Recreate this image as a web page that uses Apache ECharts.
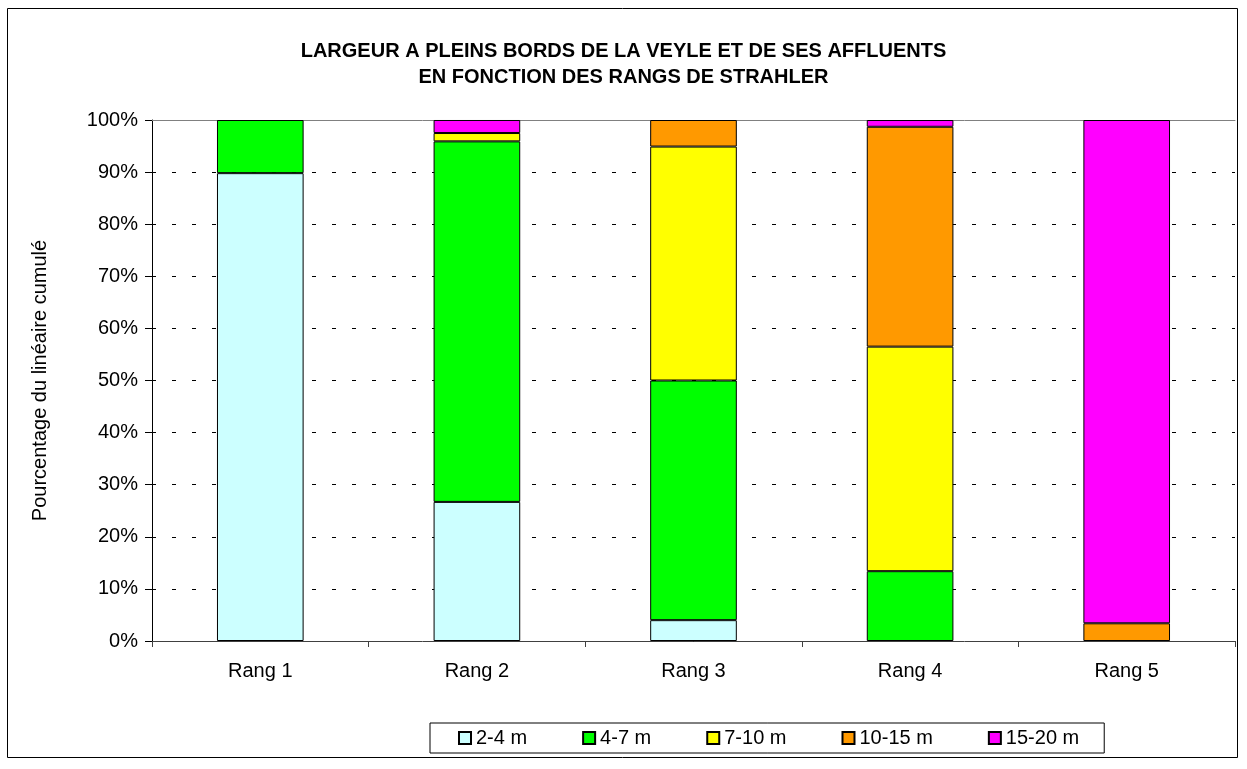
<!DOCTYPE html>
<html>
<head>
<meta charset="utf-8">
<title>Largeur a pleins bords de la Veyle</title>
<script src="https://cdn.jsdelivr.net/npm/echarts@6/dist/echarts.min.js"></script>
<style>
	html, body { margin: 0; padding: 0; background: #fff; }
	#main { width: 1247px; height: 769px; }
</style>
</head>
<body>
<div id="main"></div>
<script>
// rangs de Strahler
var categories = ['Rang 1', 'Rang 2', 'Rang 3', 'Rang 4', 'Rang 5'];

// pourcentage du linéaire par classe de largeur
var s2_4 = [89.8, 26.7, 4.0, '-', '-'];
var s4_7 = [10.2, 69.2, 46.0, 13.4, '-'];
var s7_10 = ['-', 1.6, 44.9, 43.1, '-'];
var s10_15 = ['-', '-', 5.1, 42.2, 3.4];
var s15_20 = ['-', 2.5, '-', 1.3, 96.6];

var seriesNames = ['2-4 m', '4-7 m', '7-10 m', '10-15 m', '15-20 m'];
var seriesColors = ['#CCFFFF', '#00FF00', '#FFFF00', '#FF9900', '#FF00FF'];
var seriesData = [s2_4, s4_7, s7_10, s10_15, s15_20];

var font = 'Liberation Sans, Arial, sans-serif';

var series = [];
for (var i = 0; i < seriesNames.length; i++) {
	series.push({
		name: seriesNames[i],
		type: 'bar',
		stack: 'total',
		barWidth: '40%',
		data: seriesData[i],
		itemStyle: {
			color: seriesColors[i],
			borderColor: '#000',
			borderWidth: 1
		}
	});
}

var myChart = echarts.init(document.getElementById('main'));

var option = {
	animation: false,
	title: {
		text: 'LARGEUR A PLEINS BORDS DE LA VEYLE ET DE SES AFFLUENTS\nEN FONCTION DES RANGS DE STRAHLER',
		left: 'center',
		top: 33,
		textStyle: {
			fontFamily: font,
			fontSize: 20,
			fontWeight: 'bold',
			lineHeight: 26,
			color: '#000',
			align: 'center'
		}
	},
	legend: {
		left: 430,
		top: 723,
		padding: [5, 25, 5, 28],
		itemGap: 55,
		itemWidth: 12,
		itemHeight: 12,
		borderColor: '#000',
		borderWidth: 1,
		icon: 'rect',
		data: seriesNames,
		textStyle: {
			fontFamily: font,
			fontSize: 20,
			color: '#000'
		}
	},
	grid: {
		left: 152,
		right: 12,
		top: 120,
		bottom: 128
	},
	xAxis: [{
		type: 'category',
		data: categories,
		axisLine: { lineStyle: { color: '#404040', width: 1 } },
		axisTick: { show: true, length: 6, lineStyle: { color: '#404040' } },
		axisLabel: {
			margin: 20,
			fontFamily: font,
			fontSize: 20,
			color: '#000'
		}
	}, {
		// ligne du haut de la zone de tracé
		type: 'category',
		position: 'top',
		data: categories,
		axisLine: { lineStyle: { color: '#808080', width: 1 } },
		axisTick: { show: false },
		axisLabel: { show: false }
	}],
	yAxis: {
		type: 'value',
		min: 0,
		max: 100,
		interval: 10,
		name: 'Pourcentage du linéaire cumulé',
		nameLocation: 'middle',
		nameGap: 102,
		nameTextStyle: {
			fontFamily: font,
			fontSize: 20,
			color: '#000'
		},
		axisLine: { show: true, lineStyle: { color: '#000', width: 1 } },
		axisTick: { show: true, length: 7, lineStyle: { color: '#000' } },
		axisLabel: {
			margin: 14,
			formatter: '{value}%',
			fontFamily: font,
			fontSize: 20,
			color: '#000'
		},
		splitLine: {
			lineStyle: {
				color: '#000',
				type: [4, 16],
				width: 1
			}
		}
	},
	graphic: [{
		// cadre du graphique
		type: 'rect',
		shape: { x: 7.5, y: 8.5, width: 1230, height: 749 },
		style: { fill: 'none', stroke: '#000', lineWidth: 1 },
		silent: true
	}],
	series: series
};

myChart.setOption(option);
</script>
</body>
</html>
